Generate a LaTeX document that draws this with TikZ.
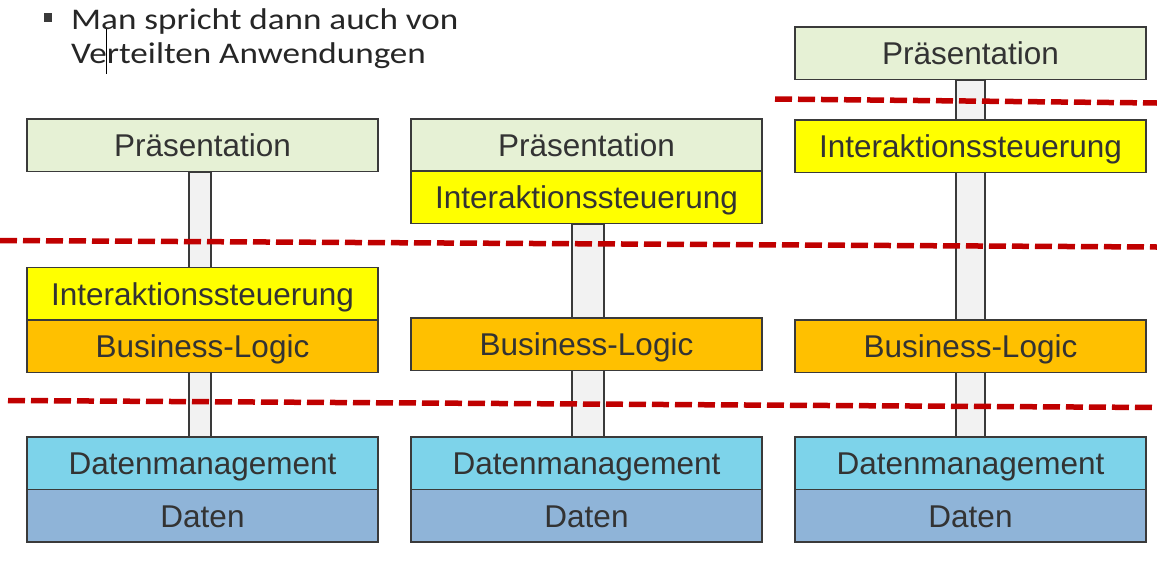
\documentclass[tikz,border=0pt]{standalone}
\usepackage{fontspec}
\setmainfont{Liberation Sans}
\newfontfamily\titlefont[FakeStretch=1.17]{Carlito}
\newfontfamily\boxfont{Liberation Sans}
\usetikzlibrary{backgrounds}
\definecolor{praes}{HTML}{E6F1D5}
\definecolor{inter}{HTML}{FFFF00}
\definecolor{busi}{HTML}{FFC000}
\definecolor{dmgmt}{HTML}{7DD3EA}
\definecolor{daten}{HTML}{8FB4D8}
\definecolor{edge}{HTML}{3A3A3A}
\definecolor{txt}{HTML}{333333}
\definecolor{barfill}{HTML}{F2F2F2}
\definecolor{cut}{HTML}{C00000}
\begin{document}
\begin{tikzpicture}[x=1pt,y=-1pt,
  layerbox/.style={draw=edge,line width=1.8pt,inner sep=0pt,outer sep=0pt,
    minimum width=351pt,minimum height=52.5pt,anchor=north west,
    text height=23.4pt,text depth=0pt,
    text=txt,font=\boxfont\fontsize{31.5}{36}\selectfont},
  titleline/.style={anchor=base west,inner sep=0pt,text=black!85,
    font=\titlefont\fontsize{30}{33.5}\selectfont},
  bar/.style={draw=edge,line width=2.2pt,fill=barfill},
  cutline/.style={draw=cut,line width=5.5pt,dash pattern=on 17pt off 6pt}]
\useasboundingbox (0,0) rectangle (1157,571);
% title
\fill[edge] (44,13) rectangle (52,22);
\node[titleline] (title1) at (71,29.5) {Man spricht dann auch von};
\node[titleline] (title2) at (71,63) {Verteilten Anwendungen};
\coordinate (curA) at (106,29);
\coordinate (curB) at (106,74);
\draw[black,line width=1pt] (curA) -- (curB);
% column 1
\node[layerbox,fill=praes] (p1) at (27,119) {Präsentation};
\node[layerbox,fill=inter] (i1) at (27,267.5) {Interaktionssteuerung};
\node[layerbox,fill=busi] (b1) at (27,320) {Business-Logic};
\node[layerbox,fill=dmgmt] (m1) at (27,437) {Datenmanagement};
\node[layerbox,fill=daten] (d1) at (27,489.5) {Daten};
% column 2
\node[layerbox,fill=praes] (p2) at (411,119) {Präsentation};
\node[layerbox,fill=inter] (i2) at (411,171) {Interaktionssteuerung};
\node[layerbox,fill=busi] (b2) at (411,318) {Business-Logic};
\node[layerbox,fill=dmgmt] (m2) at (411,437) {Datenmanagement};
\node[layerbox,fill=daten] (d2) at (411,489.5) {Daten};
% column 3
\node[layerbox,fill=praes] (p3) at (795,27) {Präsentation};
\node[layerbox,fill=inter] (i3) at (795,120) {Interaktionssteuerung};
\node[layerbox,fill=busi] (b3) at (795,320) {Business-Logic};
\node[layerbox,fill=dmgmt] (m3) at (795,437) {Datenmanagement};
\node[layerbox,fill=daten] (d3) at (795,489.5) {Daten};
% connector bars
\begin{scope}[on background layer]
\draw[bar] ([xshift=-2.5pt-11pt]p1.south) rectangle ([xshift=-2.5pt+11pt]m1.north);
\draw[bar] ([xshift=1.5pt-16pt]i2.south) rectangle ([xshift=1.5pt+16pt]m2.north);
\draw[bar] ([xshift=-14.5pt]p3.south) rectangle ([xshift=14.5pt]m3.north);
\end{scope}
% cut lines
\coordinate (c1a) at (775,99);  \coordinate (c1b) at (1157,103);
\coordinate (c2a) at (0,240.5); \coordinate (c2b) at (1157,247);
\coordinate (c3a) at (8,400.5); \coordinate (c3b) at (1157,407.5);
\draw[cutline] (c1a) -- (c1b);
\draw[cutline] (c2a) -- (c2b);
\draw[cutline] (c3a) -- (c3b);
\end{tikzpicture}
\end{document}
